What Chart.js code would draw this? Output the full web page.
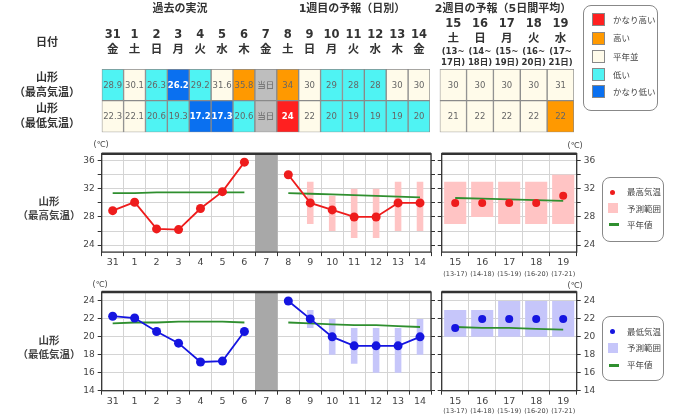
<!DOCTYPE html>
<html>
<head>
<meta charset="utf-8">
<script src="https://cdn.jsdelivr.net/npm/chart.js@4.4.1/dist/chart.umd.min.js"></script>
<style>
body { margin: 0; background: #fff; }
#wrap { position: relative; width: 680px; height: 420px; overflow: hidden; font-family: "DejaVu Sans", "Noto Sans CJK JP", sans-serif; color: #333; }
#wrap canvas { position: absolute; left: 0; top: 0; }
.c { position: absolute; white-space: nowrap; transform: translate(-50%, -50%); line-height: 1; }
.h { font-size: 11px; font-weight: bold; color: #333; }
.r { font-size: 10.5px; font-weight: bold; color: #444; }
.u { font-size: 8px; color: #444; }
.box { position: absolute; border: 1px solid #888; border-radius: 8px; background: #fff; }
.sw { position: absolute; width: 13px; height: 13px; border: 1px solid #888; box-sizing: border-box; }
.lt { position: absolute; font-size: 8.5px; color: #444; white-space: nowrap; transform: translateY(-50%); line-height: 1; }
</style>
</head>
<body>
<div id="wrap">
  <canvas id="tab1" width="680" height="420"></canvas>
  <canvas id="tab2" width="680" height="420"></canvas>
  <canvas id="hi1" width="680" height="420"></canvas>
  <canvas id="hi2" width="680" height="420"></canvas>
  <canvas id="lo1" width="680" height="420"></canvas>
  <canvas id="lo2" width="680" height="420"></canvas>

  <div class="c h" style="left:180px;top:8px">過去の実況</div>
  <div class="c h" style="left:352px;top:8px">1週目の予報（日別）</div>
  <div class="c h" style="left:503px;top:8px">2週目の予報（5日間平均）</div>
  <div class="c h" style="left:47px;top:42px">日付</div>
  <div class="c h" style="left:47px;top:77px">山形</div>
  <div class="c h" style="left:47px;top:92px">（最高気温）</div>
  <div class="c h" style="left:47px;top:108px">山形</div>
  <div class="c h" style="left:47px;top:123px">（最低気温）</div>
  <div class="c r" style="left:49px;top:201px">山形</div>
  <div class="c r" style="left:49px;top:215px">（最高気温）</div>
  <div class="c r" style="left:49px;top:340px">山形</div>
  <div class="c r" style="left:49px;top:354px">（最低気温）</div>
  <div class="c u" style="left:101px;top:145px">(℃)</div>
  <div class="c u" style="left:575px;top:146px">(℃)</div>
  <div class="c u" style="left:100px;top:285px">(℃)</div>
  <div class="c u" style="left:575px;top:286px">(℃)</div>

  <div class="box" style="left:583px;top:5px;width:73px;height:104px"></div>
  <div class="sw" style="left:592px;top:13px;background:#ff2020"></div><div class="lt" style="left:613px;top:20px">かなり高い</div>
  <div class="sw" style="left:592px;top:32px;background:#ff9900"></div><div class="lt" style="left:613px;top:38px">高い</div>
  <div class="sw" style="left:592px;top:50px;background:#fffbea"></div><div class="lt" style="left:613px;top:57px">平年並</div>
  <div class="sw" style="left:592px;top:68px;background:#4ff3f3"></div><div class="lt" style="left:613px;top:75px">低い</div>
  <div class="sw" style="left:592px;top:85px;background:#0a70f0"></div><div class="lt" style="left:613px;top:92px">かなり低い</div>

  <div class="box" style="left:602px;top:177px;width:60px;height:63px"></div>
  <div style="position:absolute;left:610px;top:190px;width:5px;height:5px;border-radius:50%;background:#ee1c1c"></div>
  <div class="lt" style="left:627px;top:192px">最高気温</div>
  <div style="position:absolute;left:608px;top:203px;width:10px;height:10px;background:#ffc4c4"></div>
  <div class="lt" style="left:627px;top:209px">予測範囲</div>
  <div style="position:absolute;left:609px;top:223px;width:10px;height:2.5px;background:#2f8f2f"></div>
  <div class="lt" style="left:627px;top:225px">平年値</div>

  <div class="box" style="left:602px;top:316px;width:60px;height:63px"></div>
  <div style="position:absolute;left:610px;top:329px;width:5px;height:5px;border-radius:50%;background:#1515e0"></div>
  <div class="lt" style="left:627px;top:332px">最低気温</div>
  <div style="position:absolute;left:608px;top:343px;width:10px;height:10px;background:#c6c6fa"></div>
  <div class="lt" style="left:627px;top:348px">予測範囲</div>
  <div style="position:absolute;left:609px;top:364px;width:10px;height:2.5px;background:#2f8f2f"></div>
  <div class="lt" style="left:627px;top:365px">平年値</div>
</div>

<script>
// dates shown in the tables and along the chart x axes
const days = ['31', '1', '2', '3', '4', '5', '6', '7', '8', '9', '10', '11', '12', '13', '14'];
const weekdays = ['金', '土', '日', '月', '火', '水', '木', '金', '土', '日', '月', '火', '水', '木', '金'];
const days2 = ['15', '16', '17', '18', '19'];
const weekdays2 = ['土', '日', '月', '火', '水'];
const periodFrom = ['(13~', '(14~', '(15~', '(16~', '(17~'];
const periodTo = ['17日)', '18日)', '19日)', '20日)', '21日)'];
const periodShort = ['(13-17)', '(14-18)', '(15-19)', '(16-20)', '(17-21)'];

// y axis ticks: marks and labelled values
const maxTicks = [24, 26, 28, 30, 32, 34, 36];
const maxTickLabels = [24, 28, 32, 36];
const minTicks = [14, 16, 18, 20, 22, 24];
const minTickLabels = [14, 16, 18, 20, 22, 24];

// table cells (text + class)
const maxCells = ['28.9', '30.1', '26.3', '26.2', '29.2', '31.6', '35.8', '当日', '34', '30', '29', '28', '28', '30', '30'];
const maxLevels = ['low', 'normal', 'low', 'vlow', 'low', 'normal', 'high', 'today', 'high', 'normal', 'low', 'low', 'low', 'normal', 'normal'];
const minCells = ['22.3', '22.1', '20.6', '19.3', '17.2', '17.3', '20.6', '当日', '24', '22', '20', '19', '19', '19', '20'];
const minLevels = ['normal', 'normal', 'low', 'low', 'vlow', 'vlow', 'low', 'today', 'vhigh', 'normal', 'low', 'low', 'low', 'low', 'low'];
const maxCells2 = ['30', '30', '30', '30', '31'];
const maxLevels2 = ['normal', 'normal', 'normal', 'normal', 'normal'];
const minCells2 = ['21', '22', '22', '22', '22'];
const minLevels2 = ['normal', 'normal', 'normal', 'normal', 'high'];

// max temperature
const maxObserved = [28.9, 30.1, 26.3, 26.2, 29.2, 31.6, 35.8, null, null, null, null, null, null, null, null];
const maxForecast = [null, null, null, null, null, null, null, null, 34, 30, 29, 28, 28, 30, 30];
const maxRangeLow = [null, null, null, null, null, null, null, null, null, 27, 26, 25, 25, 26, 26];
const maxRangeHigh = [null, null, null, null, null, null, null, null, null, 33, 31, 32, 32, 33, 33];
const maxNormalPast = [31.4, 31.4, 31.5, 31.5, 31.5, 31.5, 31.5, null, null, null, null, null, null, null, null];
const maxNormalFcst = [null, null, null, null, null, null, null, null, 31.4, 31.3, 31.2, 31.1, 31.0, 30.9, 30.8];
const maxWeek2 = [30, 30, 30, 30, 31];
const maxWeek2Low = [27, 28, 27, 27, 27];
const maxWeek2High = [33, 33, 33, 33, 34];
const maxWeek2Normal = [30.7, 30.6, 30.5, 30.4, 30.3];

// min temperature
const minObserved = [22.3, 22.1, 20.6, 19.3, 17.2, 17.3, 20.6, null, null, null, null, null, null, null, null];
const minForecast = [null, null, null, null, null, null, null, null, 24, 22, 20, 19, 19, 19, 20];
const minRangeLow = [null, null, null, null, null, null, null, null, null, 21, 18, 17, 16, 16, 18];
const minRangeHigh = [null, null, null, null, null, null, null, null, null, 23, 22, 21, 21, 21, 22];
const minNormalPast = [21.5, 21.6, 21.6, 21.7, 21.7, 21.7, 21.6, null, null, null, null, null, null, null, null];
const minNormalFcst = [null, null, null, null, null, null, null, null, 21.6, 21.5, 21.4, 21.3, 21.3, 21.2, 21.1];
const minWeek2 = [21, 22, 22, 22, 22];
const minWeek2Low = [20, 20, 20, 20, 20];
const minWeek2High = [23, 23, 24, 24, 24];
const minWeek2Normal = [21.1, 21.0, 21.0, 20.9, 20.8];

const FONT = '"DejaVu Sans", "Noto Sans CJK JP", sans-serif';
Chart.defaults.font.family = FONT;
Chart.defaults.animation = false;
Chart.defaults.plugins.legend.display = false;
Chart.defaults.plugins.tooltip.enabled = false;

const levelColor = { vhigh: '#ff2020', high: '#ff9900', normal: '#fffbea', low: '#4ff3f3', vlow: '#0a70f0', today: '#bebebe' };
const RED = '#ee1c1c', BLUE = '#1515e0', GREEN = '#2f8f2f';

// padding so the chart area lands on the given box of the 680x420 page
function pad(a, wl, wr, ht, hb) {
  return { left: a.l - wl, right: 680 - a.r - wr, top: a.t - ht, bottom: 420 - a.b - hb };
}
const pairs = (lo, hi) => lo.map((v, i) => (v === null ? null : [v, hi[i]]));

const cellText = {
  id: 'cellText',
  afterDatasetsDraw(chart) {
    const ctx = chart.ctx;
    chart.data.datasets.forEach((ds, i) => {
      chart.getDatasetMeta(i).data.forEach((bar, j) => {
        const lvl = ds.levels[j];
        const strong = lvl === 'vhigh' || lvl === 'vlow';
        ctx.save();
        ctx.font = (strong ? 'bold ' : '') + '8.5px ' + FONT;
        ctx.fillStyle = strong ? '#fff' : '#666';
        ctx.textAlign = 'center';
        ctx.textBaseline = 'middle';
        ctx.fillText(ds.texts[j], bar.x, (bar.y + bar.base) / 2 + 0.5);
        ctx.restore();
      });
    });
  }
};

function makeTable(id, labels, area, tickPad, rows, extra) {
  new Chart(document.getElementById(id), {
    type: 'bar',
    data: {
      labels,
      datasets: rows.map((r, k) => ({
        data: labels.map(() => [k, k + 1]),
        texts: r.texts,
        levels: r.levels,
        backgroundColor: r.levels.map(l => levelColor[l]),
        borderColor: '#8a8a8a',
        borderWidth: 1,
        borderSkipped: false,
        barPercentage: 1,
        categoryPercentage: 1,
        grouped: false
      }))
    },
    options: {
      responsive: false,
      layout: { padding: pad(area, 0, 0, 62, 0) },
      scales: {
        x: {
          position: 'top',
          grid: { display: false, drawTicks: false },
          border: { display: false },
          ticks: { padding: tickPad, color: '#333', maxRotation: 0, autoSkip: false, font: { size: 11.5, weight: 'bold', lineHeight: 1.28 } },
          afterFit: s => { s.height = 62; }
        },
        y: { display: false, min: 0, max: 2, reverse: true }
      }
    },
    plugins: [cellText].concat(extra || [])
  });
}

makeTable('tab1', days.map((d, i) => [d, weekdays[i]]), { l: 101.7, r: 430, t: 69, b: 132.3 }, 12,
  [{ texts: maxCells, levels: maxLevels }, { texts: minCells, levels: minLevels }]);

makeTable('tab2', days2.map((d, i) => [d, weekdays2[i]]), { l: 439.7, r: 574, t: 69, b: 132.3 }, 23,
  [{ texts: maxCells2, levels: maxLevels2 }, { texts: minCells2, levels: minLevels2 }],
  [{
    id: 'periods',
    afterDraw(chart) {
      const ctx = chart.ctx, x = chart.scales.x, top = chart.chartArea.top;
      ctx.save();
      ctx.font = 'bold 8.5px ' + FONT;
      ctx.fillStyle = '#333';
      ctx.textAlign = 'center';
      ctx.textBaseline = 'middle';
      days2.forEach((d, i) => {
        ctx.fillText(periodFrom[i], x.getPixelForValue(i), top - 17);
        ctx.fillText(periodTo[i], x.getPixelForValue(i), top - 6);
      });
      ctx.restore();
    }
  }]);

const frame = {
  id: 'frame',
  afterDraw(chart) {
    const a = chart.chartArea, ctx = chart.ctx;
    ctx.save();
    ctx.strokeStyle = '#333';
    ctx.lineWidth = 1.3;
    ctx.strokeRect(a.left, a.top, a.right - a.left, a.bottom - a.top);
    ctx.lineWidth = 2.5;
    ctx.beginPath();
    ctx.moveTo(a.left, a.top);
    ctx.lineTo(a.right, a.top);
    ctx.stroke();
    ctx.restore();
  }
};

function subLabels(offset) {
  return {
    id: 'subLabels',
    afterDraw(chart) {
      const ctx = chart.ctx, x = chart.scales.x;
      ctx.save();
      ctx.font = '6.5px ' + FONT;
      ctx.fillStyle = '#444';
      ctx.textAlign = 'center';
      ctx.textBaseline = 'middle';
      periodShort.forEach((p, i) => ctx.fillText(p, x.getPixelForValue(i), chart.chartArea.bottom + offset));
      ctx.restore();
    }
  };
}

function plotScales(min, max, side, tickVals, labelVals) {
  const setTicks = s => { s.ticks = tickVals.map(value => ({ value })); };
  const lab = v => (labelVals.includes(Math.round(v)) ? String(Math.round(v)) : '');
  const tickFont = { size: 9 };
  return {
    x: {
      offset: true,
      grid: { color: '#d4d4d4', tickColor: '#333', tickLength: 4, offset: true },
      border: { display: false },
      ticks: { font: { size: 9.5 }, color: '#444', padding: 1, maxRotation: 0, autoSkip: false },
      afterFit: s => { s.height = 30; }
    },
    y: {
      position: 'left', min, max, afterBuildTicks: setTicks,
      grid: { color: '#d4d4d4', tickColor: '#333', tickLength: 4 },
      border: { display: false },
      ticks: { display: side === 'left', autoSkip: false, callback: lab, font: tickFont, color: '#444', padding: 3 },
      afterFit: s => { s.width = side === 'left' ? 40 : 5; }
    },
    y2: {
      position: 'right', min, max, afterBuildTicks: setTicks,
      grid: { drawOnChartArea: false, tickColor: '#333', tickLength: 4 },
      border: { display: false },
      ticks: { display: side === 'right', autoSkip: false, callback: lab, font: tickFont, color: '#444', padding: 3 },
      afterFit: s => { s.width = side === 'right' ? 30 : 5; }
    }
  };
}

function line(data, color, width, radius, order) {
  return {
    type: 'line', data, borderColor: color, backgroundColor: color, borderWidth: width,
    pointRadius: radius, pointBorderWidth: 0, spanGaps: false, order
  };
}
function band(data, color, pct, order) {
  return { type: 'bar', data, backgroundColor: color, barPercentage: pct, categoryPercentage: 1, grouped: false, order };
}

function makeDaily(id, area, min, max, ticks, obs, fcst, lo, hi, nPast, nFcst, levels, color, rangeColor) {
  new Chart(document.getElementById(id), {
    type: 'bar',
    data: {
      labels: days,
      datasets: [
        band(levels.map(l => (l === 'today' ? [min, max] : null)), '#a8a8a8', 1, 5),
        band(pairs(lo, hi), rangeColor, 0.3, 4),
        line(nPast, GREEN, 1.8, 0, 2),
        line(nFcst, GREEN, 1.8, 0, 2),
        line(obs, color, 1.8, 4.5, 0),
        line(fcst, color, 1.8, 4.5, 0)
      ]
    },
    options: {
      responsive: false,
      layout: { padding: pad(area, 40, 5, 0, 30) },
      scales: plotScales(min, max, 'left', ticks[0], ticks[1])
    },
    plugins: [frame]
  });
}

function makeWeek2(id, area, min, max, ticks, vals, lo, hi, normal, color, rangeColor, subOffset) {
  new Chart(document.getElementById(id), {
    type: 'bar',
    data: {
      labels: days2,
      datasets: [
        band(pairs(lo, hi), rangeColor, 0.82, 4),
        line(normal, GREEN, 1.8, 0, 2),
        Object.assign(line(vals, color, 0, 4, 0), { showLine: false })
      ]
    },
    options: {
      responsive: false,
      layout: { padding: pad(area, 5, 30, 0, 30) },
      scales: plotScales(min, max, 'right', ticks[0], ticks[1])
    },
    plugins: [frame, subLabels(subOffset)]
  });
}

makeDaily('hi1', { l: 101.7, r: 431, t: 153.7, b: 252.1 }, 23, 37, [maxTicks, maxTickLabels],
  maxObserved, maxForecast, maxRangeLow, maxRangeHigh, maxNormalPast, maxNormalFcst, maxLevels, RED, '#ffc4c4');
makeWeek2('hi2', { l: 441.7, r: 576.7, t: 153.7, b: 252.1 }, 23, 37, [maxTicks, maxTickLabels],
  maxWeek2, maxWeek2Low, maxWeek2High, maxWeek2Normal, RED, '#ffc4c4', 22);

makeDaily('lo1', { l: 101.7, r: 431, t: 292, b: 390.7 }, 14, 25, [minTicks, minTickLabels],
  minObserved, minForecast, minRangeLow, minRangeHigh, minNormalPast, minNormalFcst, maxLevels, BLUE, '#c6c6fa');
makeWeek2('lo2', { l: 441.7, r: 576.7, t: 292, b: 390.7 }, 14, 25, [minTicks, minTickLabels],
  minWeek2, minWeek2Low, minWeek2High, minWeek2Normal, BLUE, '#c6c6fa', 21);
</script>
</body>
</html>
